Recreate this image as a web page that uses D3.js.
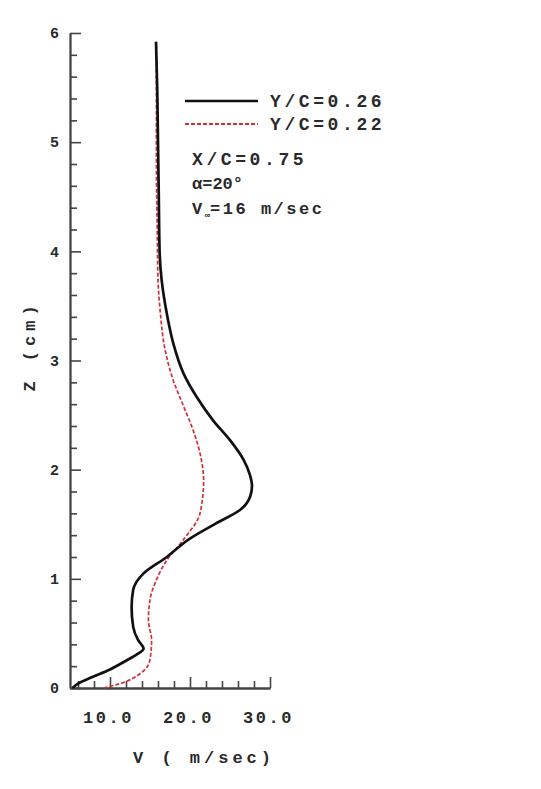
<!DOCTYPE html>
<html><head><meta charset="utf-8">
<script src="https://cdn.jsdelivr.net/npm/d3@7"></script>
<style>
body{margin:0;background:#fff;}
svg{display:block;}
text{font-family:"Liberation Mono","DejaVu Sans Mono",monospace;font-weight:bold;fill:#2a2a2a;}
</style></head>
<body>
<svg id="c" width="541" height="789"></svg>
<script>
// Series: Y/C = 0.26 (solid black)
const zBlack = [0, 0.04, 0.10, 0.17, 0.25, 0.31, 0.36, 0.44, 0.56, 0.74, 0.90, 1.05, 1.20, 1.36, 1.51, 1.63, 1.75, 1.85, 1.95, 2.09, 2.27, 2.45, 2.67, 2.88, 3.16, 3.43, 3.74, 4.0, 4.5, 5.0, 5.5, 5.92];
const vBlack = [5.3, 6.0, 7.8, 10.0, 12.0, 13.4, 14.2, 13.5, 12.9, 12.7, 12.9, 14.2, 17.1, 19.8, 23.3, 26.25, 27.5, 27.75, 27.5, 26.7, 25.0, 22.9, 20.8, 19.2, 17.9, 17.1, 16.45, 16.2, 16.1, 16.0, 15.9, 15.75];
// Series: Y/C = 0.22 (dashed red)
const zRed = [0, 0.04, 0.13, 0.26, 0.44, 0.62, 0.81, 0.99, 1.17, 1.36, 1.60, 1.90, 2.10, 2.36, 2.58, 2.82, 3.13, 3.43, 3.74, 4.2, 4.8, 5.4, 5.92];
const vRed = [9.2, 11.25, 13.75, 15.0, 15.2, 14.8, 15.0, 15.8, 17.1, 19.2, 21.25, 21.7, 21.4, 20.4, 19.2, 17.9, 16.8, 16.3, 16.0, 15.9, 15.8, 15.8, 15.8];

const xMajorTicks = [10, 20, 30];
const xMinorTicks = [6, 8, 12, 14, 16, 18, 22, 24, 26, 28];
const yMajorTicks = [0, 1, 2, 3, 4, 5, 6];
const yMinorTicks = d3.range(0, 30).map(i => +(i * 0.2).toFixed(1)).filter(v => v % 1 !== 0);

const legendLabels = ["Y/C=0.26", "Y/C=0.22"];
const noteLines = ["X/C=0.75", "α=20°", "V∞=16 m/sec"];

const svg = d3.select("#c");
const x = d3.scaleLinear().domain([5, 30]).range([70, 270]);
const y = d3.scaleLinear().domain([0, 6]).range([688, 33]);

// Axes (minor and major ticks in separate groups)
svg.append("g").attr("transform", `translate(${x(5)},0)`)
  .call(d3.axisLeft(y).tickValues(yMinorTicks).tickSize(-7).tickSizeOuter(0).tickFormat(""));
const gy = svg.append("g").attr("transform", `translate(${x(5)},0)`)
  .call(d3.axisLeft(y).tickValues(yMajorTicks).tickSize(-11).tickSizeOuter(0).tickPadding(11).tickFormat(d3.format("d")));
svg.append("g").attr("transform", `translate(0,${y(0)})`)
  .call(d3.axisBottom(x).tickValues(xMinorTicks).tickSize(-7).tickSizeOuter(0).tickFormat(""));
const gx = svg.append("g").attr("transform", `translate(0,${y(0)})`)
  .call(d3.axisBottom(x).tickValues(xMajorTicks).tickSize(-11).tickSizeOuter(0).tickPadding(23).tickFormat(d3.format(".1f")));
svg.selectAll(".domain").attr("stroke", "#444").attr("stroke-width", 1.8);
svg.selectAll(".tick line").attr("stroke", "#444").attr("stroke-width", 1.6);
gy.selectAll(".tick text").attr("font-size", 15).attr("font-family", "Liberation Mono").attr("font-weight", "bold").attr("fill", "#2a2a2a");
gx.selectAll(".tick text").attr("font-size", 17).attr("font-family", "Liberation Mono").attr("font-weight", "bold").attr("fill", "#2a2a2a").attr("letter-spacing", 2.5).attr("dx", -2);

// Axis titles
svg.append("text").attr("x", 204).attr("y", 763).attr("text-anchor", "middle").attr("font-size", 17).attr("letter-spacing", 4).text("V ( m/sec)");
svg.append("text").attr("transform", "translate(35,346) rotate(-90)").attr("text-anchor", "middle").attr("font-size", 17).attr("letter-spacing", 5).text("Z (cm)");

// Curves
const line = d3.line().x(d => x(d[0])).y(d => y(d[1])).curve(d3.curveMonotoneY);
svg.append("path").datum(vRed.map((v, i) => [v, zRed[i]]))
  .attr("fill", "none").attr("stroke", "#d0303a").attr("stroke-width", 1.7).attr("stroke-dasharray", "4,2").attr("d", line);
svg.append("path").datum(vBlack.map((v, i) => [v, zBlack[i]]))
  .attr("fill", "none").attr("stroke", "#111").attr("stroke-width", 2.7).attr("d", line);

// Legend
const leg = svg.append("g");
leg.append("line").attr("x1", 185).attr("x2", 258).attr("y1", 101).attr("y2", 101).attr("stroke", "#111").attr("stroke-width", 2.7);
leg.append("line").attr("x1", 185).attr("x2", 258).attr("y1", 124).attr("y2", 124).attr("stroke", "#d0303a").attr("stroke-width", 1.8).attr("stroke-dasharray", "4,2");
legendLabels.forEach((t, i) => {
  leg.append("text").attr("x", 270).attr("y", 107 + i * 23).attr("font-size", 18).attr("letter-spacing", 3.6).text(t);
});
// Notes
svg.append("text").attr("x", 192).attr("y", 165).attr("font-size", 18).attr("letter-spacing", 3.6).text(noteLines[0]);
svg.append("text").attr("x", 192).attr("y", 189).attr("font-size", 17).attr("letter-spacing", 0).text(noteLines[1]);
const t3 = svg.append("text").attr("x", 192).attr("y", 214).attr("font-size", 17).attr("letter-spacing", 2.5);
t3.append("tspan").text("V");
t3.append("tspan").attr("font-size", 9).attr("dy", 4).attr("letter-spacing", 0).text("∞");
t3.append("tspan").attr("dy", -4).text("=16 m/sec");
</script>
</body></html>
